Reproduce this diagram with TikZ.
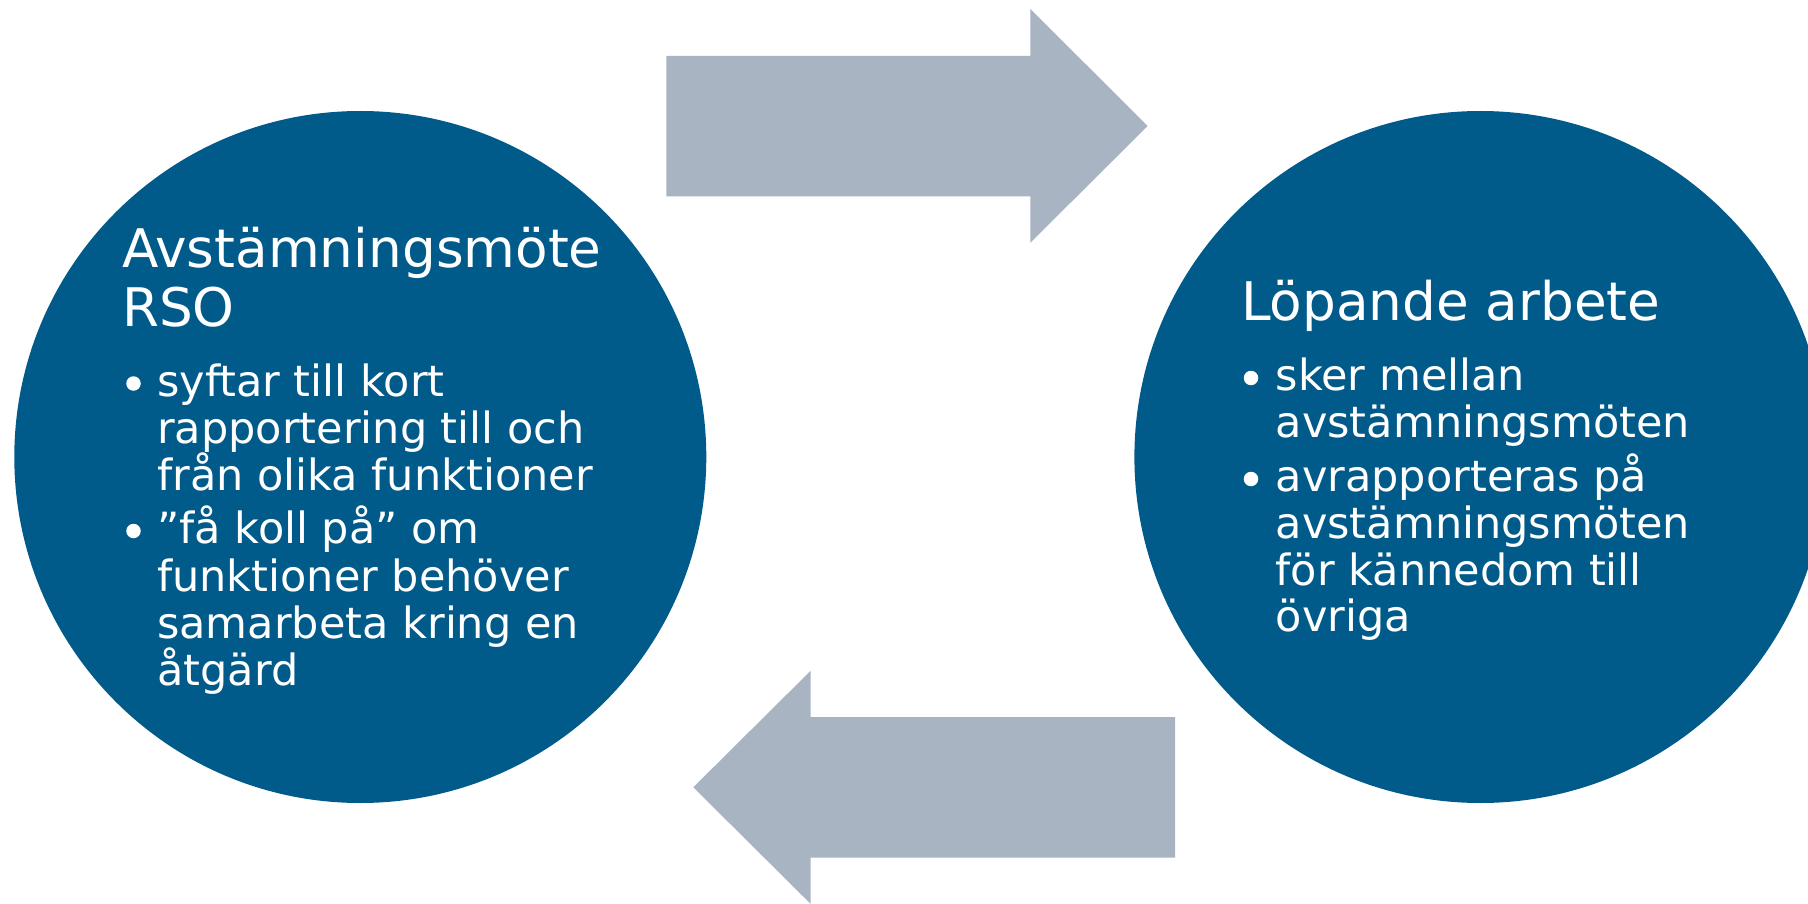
\documentclass[tikz,border=0pt]{standalone}
\usepackage{fontspec}
\setmainfont{DejaVu Sans}
\definecolor{circblue}{RGB}{0,91,138}
\definecolor{arrowgray}{RGB}{169,180,194}
\begin{document}
\begin{tikzpicture}[x=1pt,y=-1pt,
  bigcirc/.style={circle, fill=circblue, draw=none, minimum size=692pt, inner sep=0pt},
  titletxt/.style={anchor=base west, inner sep=0pt, text=white, font=\fontsize{53.2}{58.3}\selectfont},
  bodytxt/.style={anchor=base west, inner sep=0pt, text=white, font=\fontsize{43}{47}\selectfont},
  bulletdot/.style={circle, fill=white, draw=none, minimum size=14.5pt, inner sep=0pt},
  blockarrow/.style={fill=arrowgray, draw=none}]
\useasboundingbox (0,0) rectangle (1808,904);
\clip (0,0) rectangle (1808,904);
\fill[white] (0,0) rectangle (1808,904);

% circles
\node[bigcirc] (cL) at (360.3,457) {};
\node[bigcirc] (cR) at (1480.4,457) {};

% block arrows
\fill[blockarrow] (666.3,56) -- (1030.3,56) -- (1030.3,9) -- (1147.7,126)
  -- (1030.3,242.7) -- (1030.3,196.3) -- (666.3,196.3) -- cycle;
\fill[blockarrow] (1175,717) -- (810.7,717) -- (810.7,670.7) -- (693.3,787.3)
  -- (810.7,903.9) -- (810.7,857.7) -- (1175,857.7) -- cycle;

% left circle text
\node[titletxt] (tL1) at (122,267.7) {Avstämningsmöte};
\node[titletxt] (tL2) at (122,326) {RSO};
\node[bulletdot] (bL1) at (133.5,383.5) {};
\node[bodytxt] (L1) at (157,396) {syftar till kort};
\node[bodytxt] (L2) at (157,443.3) {rapportering till och};
\node[bodytxt] (L3) at (157,490) {från olika funktioner};
\node[bulletdot] (bL2) at (133.5,531) {};
\node[bodytxt] (L4) at (157,543.3) {”få koll på” om};
\node[bodytxt] (L5) at (157,591.7) {funktioner behöver};
\node[bodytxt] (L6) at (157,638.3) {samarbeta kring en};
\node[bodytxt] (L7) at (157,685) {åtgärd};

% right circle text
\node[titletxt] (tR1) at (1241,320) {Löpande arbete};
\node[bulletdot] (bR1) at (1251,378) {};
\node[bodytxt] (R1) at (1275.5,390.7) {sker mellan};
\node[bodytxt] (R2) at (1275.5,437.3) {avstämningsmöten};
\node[bulletdot] (bR2) at (1251,479) {};
\node[bodytxt] (R3) at (1275.5,491.7) {avrapporteras på};
\node[bodytxt] (R4) at (1275.5,538.3) {avstämningsmöten};
\node[bodytxt] (R5) at (1275.5,585) {för kännedom till};
\node[bodytxt] (R6) at (1275.5,631.5) {övriga};
\end{tikzpicture}
\end{document}
